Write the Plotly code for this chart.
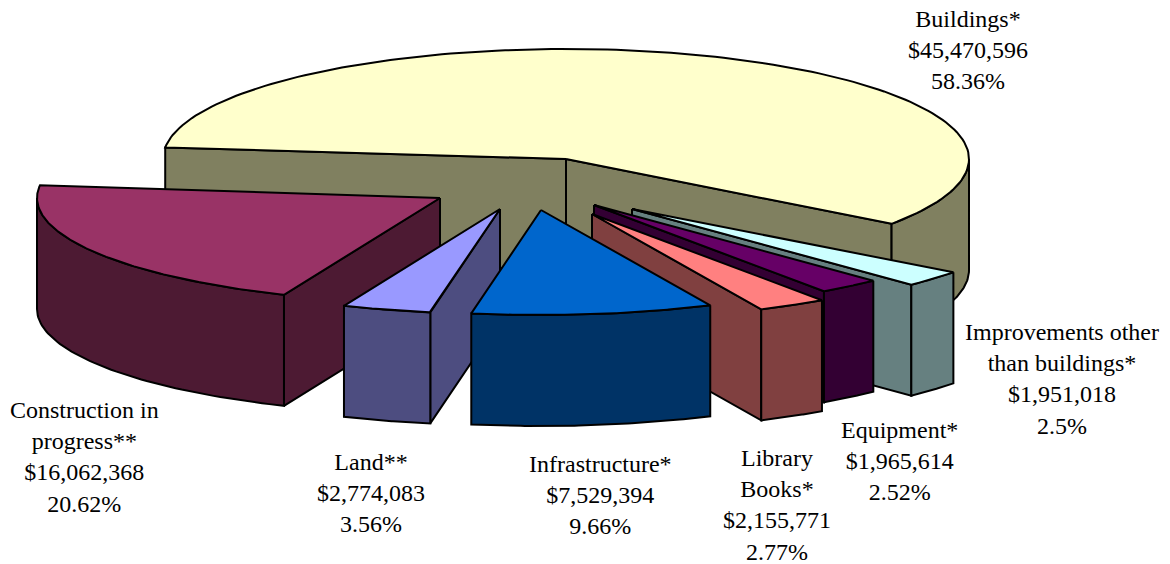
import math
import numpy as np
import plotly.graph_objects as go

names = ["Buildings*", "Improvements other<br>than buildings*", "Equipment*", "Library<br>Books*",
         "Infrastructure*", "Land**", "Construction in<br>progress**"]
values = [45470596, 1951018, 1965614, 2155771, 7529394, 2774083, 16062368]
percents = ["58.36%", "2.5%", "2.52%", "2.77%", "9.66%", "3.56%", "20.62%"]

top_colors = ["#FFFFCC", "#CCFFFF", "#660066", "#FF8080", "#0066CC", "#9999FF", "#993366"]
wall_colors = ["#808060", "#668080", "#330033", "#804040", "#003366", "#4D4D80", "#4D1A33"]
tips = [(566, 158), (632, 208), (594, 204), (592, 213), (541, 209), (500, 208), (440, 197)]
ry_list = [110, 105, 105, 105, 105, 105, 105]
angle_shift = [0, -1, -1, -1, -1, -1, -1]
draw_order = [0, 1, 2, 3, 6, 5, 4]
label_xy = [(968, 49), (1062, 378), (899, 460), (777, 504), (600, 494), (371, 492), (84, 456)]

RX, DEPTH = 403, 111
START = 174.0
total = sum(values)

fig = go.Figure()


def poly(xs, ys, color):
    fig.add_trace(go.Scatter(x=xs, y=ys, mode="lines", fill="toself", fillcolor=color,
                             line=dict(color="black", width=2), hoverinfo="skip", showlegend=False))


angle = START
slices = []
for v in values:
    sweep = 360 * v / total
    slices.append((angle, angle - sweep))
    angle -= sweep

for i in draw_order:
    a1, a2 = slices[i][0] + angle_shift[i], slices[i][1] + angle_shift[i]
    cx, cy = tips[i]
    ry = ry_list[i]
    top, wall = top_colors[i], wall_colors[i]
    pt = lambda a: (cx + RX * math.cos(math.radians(a)), cy - ry * math.sin(math.radians(a)))
    for a, vis in ((a1, math.cos(math.radians(a1)) < 0), (a2, math.cos(math.radians(a2)) > 0)):
        if vis:
            x, y = pt(a)
            poly([cx, x, x, cx, cx], [cy, y, y + DEPTH, cy + DEPTH, cy], wall)
    lo, hi = max(a2, -180), min(a1, 0)
    if hi > lo:
        arc = np.linspace(hi, lo, 60)
        ax = [pt(a)[0] for a in arc]
        ay = [pt(a)[1] for a in arc]
        poly(ax + ax[::-1] + ax[:1], ay + [q + DEPTH for q in ay[::-1]] + ay[:1], wall)
    arc = np.linspace(a1, a2, 160)
    ax = [pt(a)[0] for a in arc]
    ay = [pt(a)[1] for a in arc]
    poly([cx] + ax + [cx], [cy] + ay + [cy], top)

annotations = []
for n, v, p, (lx, ly) in zip(names, values, percents, label_xy):
    annotations.append(dict(x=lx, y=ly, xref="x", yref="y", showarrow=False, align="center",
                            text=f"{n}<br>${v:,}<br>{p}",
                            font=dict(family="Liberation Serif", size=24, color="black")))

fig.update_layout(width=1170, height=564, margin=dict(l=0, r=0, t=0, b=0),
                  paper_bgcolor="white", plot_bgcolor="white",
                  xaxis=dict(range=[0, 1170], visible=False, fixedrange=True),
                  yaxis=dict(range=[563, -1], visible=False, fixedrange=True),
                  annotations=annotations, showlegend=False)
fig.write_html("out.html", config={"displayModeBar": False},
               post_script="document.body.style.margin='0';document.body.style.overflow='hidden';")
